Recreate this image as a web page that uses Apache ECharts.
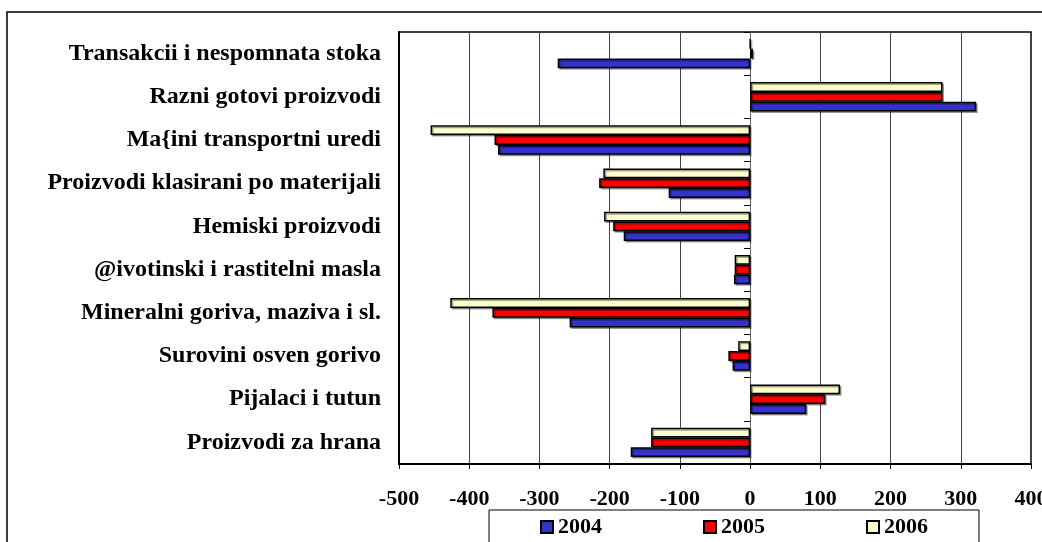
<!DOCTYPE html>
<html lang="en">
<head>
    <meta charset="UTF-8">
</head>
<style>
    html, body {
        margin: 0;
        padding: 0;
        background: #fff;
    }
</style>
<body>

<div id="main" style="width:1042px;height:542px;"></div>

<script src="https://cdn.jsdelivr.net/npm/echarts@6/dist/echarts.min.js" type="text/javascript"></script>

<script type="text/javascript">

    // kategorii (od gore nadolu)
    var categories = [
        'Transakcii i nespomnata stoka',
        'Razni gotovi proizvodi',
        'Ma{ini transportni uredi',
        'Proizvodi klasirani po materijali',
        'Hemiski proizvodi',
        '@ivotinski i rastitelni masla',
        'Mineralni goriva, maziva i sl.',
        'Surovini osven gorivo',
        'Pijalaci i tutun',
        'Proizvodi za hrana'
    ];

    var years = ['2004', '2005', '2006'];

    var values2004 = [-274, 322, -359, -116, -180, -23, -257, -25, 80, -170];
    var values2005 = [4, 274, -364, -215, -195, -22, -367, -31, 107, -141];
    var values2006 = [0, 274, -455, -209, -208, -22, -427, -17, 128, -141];

    var xTicks = {min: -500, max: 400, interval: 100};

    var colors = {'2004': '#3333CC', '2005': '#FF0000', '2006': '#FFFFCC'};

    var fontFam = '"Liberation Serif", "DejaVu Serif", serif';

    //初始化Echarts实例
    let myEcharts = echarts.init(document.getElementById('main'));

    function barSeries(name, data) {
        return {
            name: name,
            type: 'bar',
            yAxisIndex: 0,
            data: data,
            barGap: '0%',
            barCategoryGap: '32%',
            animation: false,
            itemStyle: {
                color: colors[name],
                borderColor: '#000',
                borderWidth: 1.5,
                shadowColor: 'rgba(0,0,0,0.35)',
                shadowOffsetX: 1.5,
                shadowOffsetY: 1.5,
                shadowBlur: 0
            }
        };
    }

    let option = {
        backgroundColor: '#fff',
        animation: false,
        graphic: [
            {
                type: 'rect',
                shape: {x: 7, y: 12, width: 1100, height: 600},
                style: {fill: 'none', stroke: '#000', lineWidth: 1.5},
                silent: true
            }
        ],
        grid: {
            left: 399,
            top: 32,
            right: 11,
            bottom: 78,
            outerBoundsMode: 'none',
            containLabel: false,
            show: true,
            borderColor: '#000',
            borderWidth: 1.5
        },
        legend: {
            data: years,
            left: 489,
            top: 510,
            itemWidth: 12,
            itemHeight: 12,
            itemGap: 101,
            padding: [6, 51, 40, 51],
            borderColor: '#000',
            borderWidth: 1,
            icon: 'rect',
            textStyle: {
                fontFamily: fontFam,
                fontWeight: 'bold',
                fontSize: 22,
                color: '#000'
            }
        },
        xAxis: {
            type: 'value',
            min: xTicks.min,
            max: xTicks.max,
            interval: xTicks.interval,
            axisLine: {show: true, onZero: false, lineStyle: {color: '#000', width: 2}},
            axisTick: {show: true, length: 5, lineStyle: {color: '#000'}},
            splitLine: {show: true, lineStyle: {color: '#444', width: 1}},
            axisLabel: {
                margin: 24,
                fontFamily: fontFam,
                fontWeight: 'bold',
                fontSize: 22,
                color: '#000'
            }
        },
        yAxis: [
            {
                type: 'category',
                data: categories,
                inverse: true,
                position: 'left',
                axisLine: {show: true, onZero: false, lineStyle: {color: '#000', width: 2}},
                axisTick: {show: false},
                splitLine: {show: false},
                axisLabel: {
                    margin: 18,
                    fontFamily: fontFam,
                    fontWeight: 'bold',
                    fontSize: 24,
                    color: '#000'
                }
            },
            {
                // os vo nulata, samo so crticki
                type: 'category',
                data: categories,
                inverse: true,
                position: 'left',
                axisLine: {show: true, onZero: true, lineStyle: {color: '#666', width: 1}},
                axisTick: {show: true, length: 6, lineStyle: {color: '#000', width: 1}},
                axisLabel: {show: false},
                splitLine: {show: false}
            }
        ],
        series: [
            barSeries('2006', values2006),
            barSeries('2005', values2005),
            barSeries('2004', values2004)
        ]
    };

    myEcharts.setOption(option);

</script>
</body>
</html>
